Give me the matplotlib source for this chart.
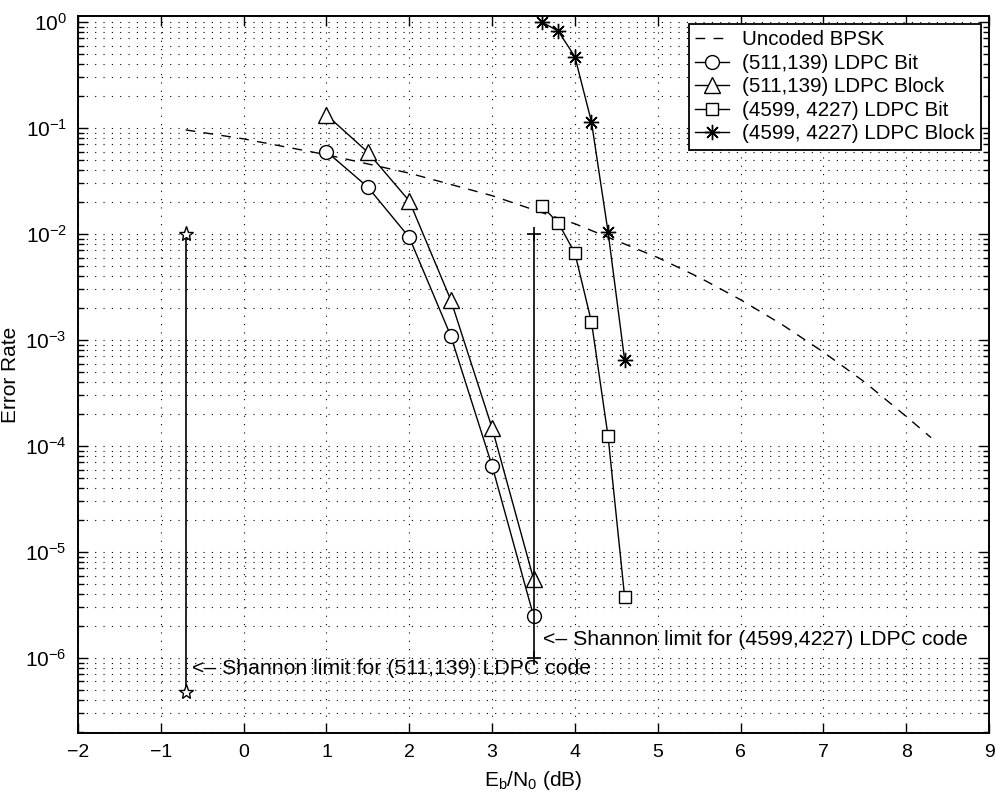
import matplotlib
matplotlib.use("Agg")
import matplotlib.pyplot as plt
from matplotlib.ticker import LogLocator, NullFormatter, FixedLocator

plt.rcParams['font.family'] = ['Liberation Sans', 'DejaVu Sans']
plt.rcParams['mathtext.fontset'] = 'custom'
plt.rcParams['mathtext.rm'] = 'Liberation Sans'
plt.rcParams['mathtext.it'] = 'Liberation Sans:italic'
plt.rcParams['mathtext.bf'] = 'Liberation Sans:bold'

# ---- data ----
bpsk_x = [-0.7, 0, 1, 2, 3, 4, 5, 5.5, 6, 6.5, 7, 7.5, 8, 8.3]
bpsk_y = [0.096, 0.079, 0.056, 0.0375, 0.023, 0.0125, 0.006, 0.0039, 0.0024,
          0.0014, 7.7e-4, 4.0e-4, 1.9e-4, 1.2e-4]

c511_x = [1, 1.5, 2, 2.5, 3, 3.5]
c511_bit = [0.060, 0.0277, 0.0093, 0.0011, 6.5e-5, 2.5e-6]
c511_blk = [0.133, 0.059, 0.0205, 0.0024, 1.48e-4, 5.6e-6]

c4599_x = [3.6, 3.8, 4.0, 4.2, 4.4, 4.6]
c4599_bit = [0.0184, 0.0127, 0.0066, 1.48e-3, 1.24e-4, 3.8e-6]
c4599_blk = [1.0, 0.82, 0.47, 0.114, 0.0105, 6.5e-4]

shannon511_x = [-0.7, -0.7]
shannon511_y = [1e-2, 4.8e-7]
shannon4599_x = [3.5, 3.5]
shannon4599_y = [1e-2, 1e-6]

labels = ['Uncoded BPSK', '(511,139) LDPC Bit', '(511,139) LDPC Block',
          '(4599, 4227) LDPC Bit', '(4599, 4227) LDPC Block']
note511 = '<\u2013 Shannon limit for (511,139) LDPC code'
note4599 = '<\u2013 Shannon limit for (4599,4227) LDPC code'

fs = 14
fig = plt.figure(figsize=(9.96, 7.98), dpi=100)
ax = fig.add_axes([78/996, 1-733/798, (989-78)/996, (733-16)/798])

ax.plot(bpsk_x, bpsk_y, color='black', lw=1.0, dashes=(7, 6), label=labels[0])
ax.plot(c511_x, c511_bit, color='black', lw=1.0, marker='o', ms=10,
        mfc='white', mec='black', mew=1.0, label=labels[1])
ax.plot(c511_x, c511_blk, color='black', lw=1.0, marker='^', ms=11,
        mfc='white', mec='black', mew=1.0, label=labels[2])
ax.plot(c4599_x, c4599_bit, color='black', lw=1.0, marker='s', ms=8,
        mfc='white', mec='black', mew=1.0, label=labels[3])
ax.plot(c4599_x, c4599_blk, color='black', lw=1.0, marker=(8, 2, 0), ms=11,
        mec='black', mew=1.0, label=labels[4])

ax.plot(shannon511_x, shannon511_y, color='black', lw=1.2, marker='*', ms=11,
        mfc='white', mec='black', mew=1.0)
ax.plot(shannon4599_x, shannon4599_y, color='black', lw=1.2, marker='+', ms=10,
        mew=1.2)

ax.text(-0.62, 8e-7, note511, fontsize=15.3, va='center', ha='left')
ax.text(3.62, 1.5e-6, note4599, fontsize=15.3, va='center', ha='left')

ax.set_yscale('log')
ax.set_xlim(-2, 9)
ax.set_ylim(1.96e-7, 1.14)
ax.set_xticks(range(-2, 10))
ax.set_xticklabels([str(v).replace('-', '\u2212') for v in range(-2, 10)])
ax.yaxis.set_major_locator(FixedLocator([1e-6, 1e-5, 1e-4, 1e-3, 1e-2, 1e-1, 1]))
ax.yaxis.set_minor_locator(LogLocator(base=10, subs=range(2, 10), numticks=20))
ax.yaxis.set_minor_formatter(NullFormatter())

ax.tick_params(which='both', direction='in', top=True, right=True,
               labelsize=fs, width=1.0, colors='black')
ax.tick_params(which='major', length=7, pad=8)
ax.tick_params(which='minor', length=4)
for lab in ax.get_yticklabels():
    lab.set_fontsize(15)

grid_kw = dict(color='black', lw=0.8, dashes=(1, 6.5))
ax.grid(True, which='major', axis='both', **grid_kw)
ax.grid(True, which='minor', axis='y', **grid_kw)
for s in ax.spines.values():
    s.set_linewidth(1.4)

ax.set_xlabel(r'E$_\mathrm{b}$/N$_\mathrm{0}$ (dB)', fontsize=15, labelpad=6)
ax.set_ylabel('Error Rate', fontsize=15, labelpad=4)

leg = ax.legend(loc='upper right', fontsize=14.8, frameon=True, fancybox=False,
                framealpha=1, edgecolor='black', borderpad=0.3,
                labelspacing=0.22, handlelength=1.65, handletextpad=0.65,
                borderaxespad=0.4)
leg.get_frame().set_linewidth(1.3)

fig.savefig('out.png', dpi=100)
